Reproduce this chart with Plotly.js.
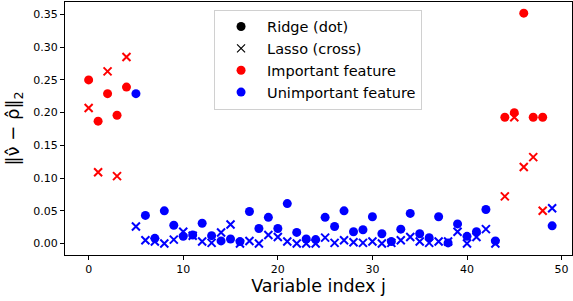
<!DOCTYPE html>
<html>
<head>
<meta charset="utf-8">
<script src="https://cdn.plot.ly/plotly-3.0.1.min.js"></script>
<style>html,body{margin:0;padding:0;background:#fff;}#chart{width:573px;height:301px;}</style>
</head>
<body>
<div id="chart"></div>
<script>
// Variable indices 0..49
var indices = [];
for (var i = 0; i < 50; i++) indices.push(i);

// Important variables
var importantIdx = [0, 1, 2, 3, 4, 44, 45, 46, 47, 48];

// Ridge (dot) values per index
var ridgeVals = [
  0.250, 0.187, 0.229, 0.196, 0.239, 0.229, 0.043, 0.008, 0.050, 0.028,
  0.011, 0.013, 0.031, 0.012, 0.004, 0.007, 0.003, 0.049, 0.023, 0.040,
  0.023, 0.061, 0.017, 0.007, 0.006, 0.040, 0.026, 0.050, 0.018, 0.021,
  0.041, 0.015, 0.003, 0.022, 0.046, 0.015, 0.009, 0.041, 0.001, 0.030,
  0.011, 0.018, 0.052, 0.004, 0.193, 0.200, 0.352, 0.193, 0.193, 0.027
];

// Lasso (cross) values per index
var lassoVals = [
  0.207, 0.109, 0.263, 0.103, 0.285, 0.026, 0.005, 0.003, 0.000, 0.006,
  0.018, 0.012, 0.003, 0.001, 0.017, 0.029, 0.000, 0.004, 0.000, 0.013,
  0.010, 0.003, 0.000, 0.000, 0.000, 0.009, 0.001, 0.005, 0.002, 0.001,
  0.003, 0.000, 0.001, 0.005, 0.010, 0.003, 0.001, 0.003, 0.003, 0.018,
  0.000, 0.010, 0.022, 0.000, 0.072, 0.193, 0.117, 0.132, 0.050, 0.054
];

var legendLabels = ["Ridge (dot)", "Lasso (cross)", "Important feature", "Unimportant feature"];
var RED = "#ff0000", BLUE = "#0000ff";

function pick(vals, important) {
  var xs = [], ys = [];
  indices.forEach(function (j) {
    var isImp = importantIdx.indexOf(j) >= 0;
    if (isImp === important) { xs.push(j); ys.push(vals[j]); }
  });
  return {x: xs, y: ys};
}

var li = pick(lassoVals, true), lu = pick(lassoVals, false);
var ri = pick(ridgeVals, true), ru = pick(ridgeVals, false);

function crossTrace(d, color) {
  return {x: d.x, y: d.y, type: "scatter", mode: "markers", showlegend: false, hoverinfo: "skip",
    marker: {symbol: "x-thin", size: 8, color: color, line: {color: color, width: 2}}};
}
function dotTrace(d, color) {
  return {x: d.x, y: d.y, type: "scatter", mode: "markers", showlegend: false, hoverinfo: "skip",
    marker: {symbol: "circle", size: 9, color: color, line: {width: 0}}};
}
function legendTrace(name, symbol, color) {
  var m = {symbol: symbol, size: symbol === "circle" ? 9 : 8, color: color,
    line: symbol === "circle" ? {width: 0} : {color: color, width: 1.2}};
  return {x: [null], y: [null], type: "scatter", mode: "markers", name: name, showlegend: true, marker: m};
}

var data = [
  crossTrace(li, RED), crossTrace(lu, BLUE),
  dotTrace(ri, RED), dotTrace(ru, BLUE),
  legendTrace(legendLabels[0], "circle", "#000000"),
  legendTrace(legendLabels[1], "x-thin", "#000000"),
  legendTrace(legendLabels[2], "circle", RED),
  legendTrace(legendLabels[3], "circle", BLUE)
];

var tickFont = {family: "DejaVu Sans", size: 11, color: "#000"};
var layout = {
  width: 573, height: 301,
  margin: {l: 65, r: 1, t: 2, b: 46},
  paper_bgcolor: "#fff", plot_bgcolor: "#fff",
  font: {family: "DejaVu Sans", color: "#000"},
  showlegend: true,
  legend: {x: 0.294, y: 0.97, xanchor: "left", yanchor: "top", itemwidth: 42,
    bgcolor: "rgba(255,255,255,0.8)", bordercolor: "#d0d0d0", borderwidth: 1,
    font: {family: "DejaVu Sans", size: 14.5, color: "#000"}, tracegroupgap: 0},
  xaxis: {
    range: [-2.5, 51.1], tickvals: [0, 10, 20, 30, 40, 50], ticks: "outside", ticklen: 4,
    tickcolor: "#000", showgrid: false, zeroline: false, showline: true, mirror: true,
    linecolor: "#000", linewidth: 1, tickfont: tickFont,
    title: {text: "Variable index j", font: {family: "DejaVu Sans", size: 17.5, color: "#000"}, standoff: 2}
  },
  yaxis: {
    range: [-0.0175, 0.369], tickvals: [0, 0.05, 0.10, 0.15, 0.20, 0.25, 0.30, 0.35],
    ticktext: ["0.00", "0.05", "0.10", "0.15", "0.20", "0.25", "0.30", "0.35"],
    ticks: "outside", ticklen: 4, tickcolor: "#000", showgrid: false, zeroline: false,
    showline: true, mirror: true, linecolor: "#000", linewidth: 1, tickfont: tickFont,
    title: {text: "‖ν̂ − ρ̂‖<sub>2</sub>", font: {family: "DejaVu Sans", size: 18, color: "#000"}, standoff: 8}
  },
  hovermode: false
};

Plotly.newPlot("chart", data, layout, {displayModeBar: false, staticPlot: true});
</script>
</body>
</html>
